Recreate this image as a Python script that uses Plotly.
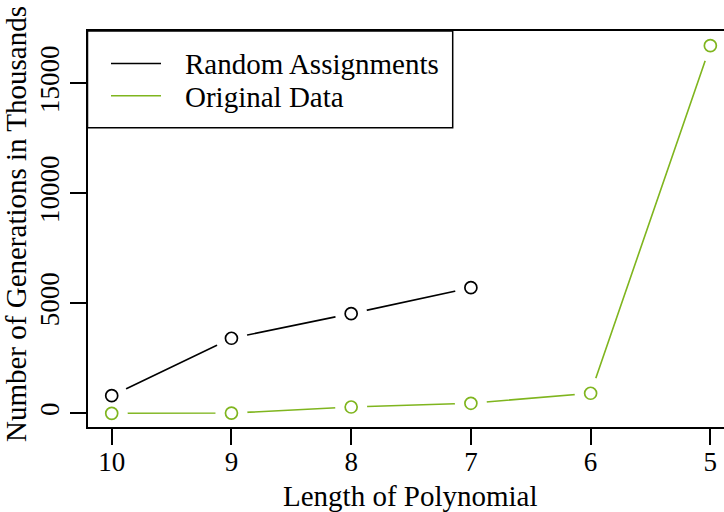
import plotly.graph_objects as go

# ---- data ----
lengths = [10, 9, 8, 7, 6, 5]
random_x = [10, 9, 8, 7]
random_y = [800, 3410, 4530, 5710]
orig_x = [10, 9, 8, 7, 6, 5]
orig_y = [0, 10, 285, 455, 910, 16710]
series_names = ["Random Assignments", "Original Data"]
y_ticks = [0, 5000, 10000, 15000]
x_title = "Length of Polynomial"
y_title = "Number of Generations in Thousands"

BLACK = "#000000"
GREEN = "#7FB51E"
FONT = "'Liberation Serif', 'Times New Roman', 'DejaVu Serif', serif"

W, H = 724, 512
ML, MR, MT, MB = 88, 0, 31, 85
PW, PH = W - ML - MR, H - MT - MB


def px(xp):
    return (xp - ML) / PW


def py(yp):
    return (H - MB - yp) / PH


fig = go.Figure()
series = [(random_x, random_y, BLACK), (orig_x, orig_y, GREEN)]

# connecting lines
for xs, ys, c in series:
    fig.add_trace(go.Scatter(x=xs, y=ys, mode="lines", line=dict(color=c, width=1.6),
                             showlegend=False, hoverinfo="skip"))
# white discs to create the gaps like R type="b"
for xs, ys, c in series:
    fig.add_trace(go.Scatter(x=xs, y=ys, mode="markers",
                             marker=dict(symbol="circle", size=32, color="white", line=dict(width=0)),
                             showlegend=False, hoverinfo="skip"))
# open circle markers
for (xs, ys, c), name in zip(series, series_names):
    fig.add_trace(go.Scatter(x=xs, y=ys, mode="markers", name=name,
                             marker=dict(symbol="circle-open", size=12, color=c, line=dict(width=1.7)),
                             showlegend=False))

# legend drawn manually (box, line samples, labels)
shapes = [dict(type="rect", xref="paper", yref="paper", x0=px(87.5), x1=px(452.7), y0=py(127.7), y1=py(31),
               line=dict(color=BLACK, width=1.5), fillcolor="white", layer="above")]
annotations = []
for (xs, ys, c), name, ly in zip(series, series_names, [63.5, 95.8]):
    shapes.append(dict(type="line", xref="paper", yref="paper", x0=px(111), x1=px(161), y0=py(ly), y1=py(ly),
                       line=dict(color=c, width=1.6), layer="above"))
    annotations.append(dict(text=name, xref="paper", yref="paper", x=px(183), y=py(ly + 1),
                            xanchor="left", yanchor="middle", showarrow=False,
                            font=dict(family=FONT, size=29, color=BLACK)))

annotations.append(dict(text=x_title, xref="paper", yref="paper", x=px(410), y=py(496),
                        xanchor="center", yanchor="middle", showarrow=False,
                        font=dict(family=FONT, size=29, color=BLACK)))
annotations.append(dict(text=y_title, xref="paper", yref="paper", x=px(16), y=py(224),
                        xanchor="center", yanchor="middle", showarrow=False, textangle=-90,
                        font=dict(family=FONT, size=29, color=BLACK)))

fig.update_layout(
    width=W, height=H,
    margin=dict(l=ML, r=MR, t=MT, b=MB, autoexpand=False),
    plot_bgcolor="white", paper_bgcolor="white",
    shapes=shapes, annotations=annotations,
    showlegend=False,
    font=dict(family=FONT, size=27, color=BLACK),
)
fig.update_xaxes(range=[10.198, 4.886], tickvals=lengths, ticktext=[str(v) for v in lengths],
                 showgrid=False, zeroline=False, showline=True, linecolor=BLACK, linewidth=1.5,
                 mirror=True, ticks="outside", ticklen=16, tickwidth=1.5, tickcolor=BLACK,
                 ticklabelstandoff=-6,
                 tickfont=dict(family=FONT, size=27, color=BLACK))
fig.update_yaxes(range=[-623, 17377], tickvals=y_ticks, ticktext=[str(v) for v in y_ticks],
                 showgrid=False, zeroline=False, showline=True, linecolor=BLACK, linewidth=1.5,
                 mirror=False, ticks="outside", ticklen=16, tickwidth=1.5, tickcolor=BLACK,
                 tickangle=-90, tickfont=dict(family=FONT, size=27, color=BLACK))

fig.write_html("out.html")
